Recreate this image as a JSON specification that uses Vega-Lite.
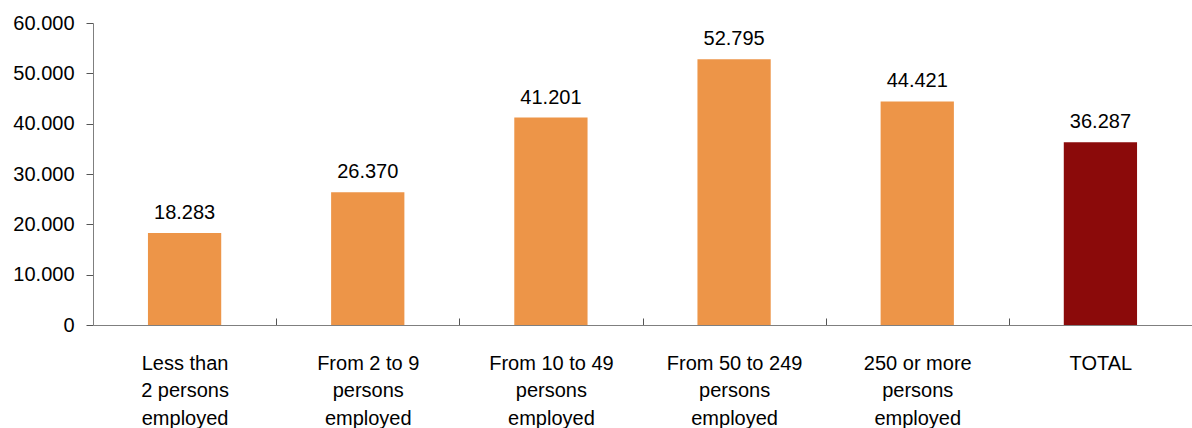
{
  "$schema": "https://vega.github.io/schema/vega-lite/v6.json",
  "width": 1099,
  "height": 302,
  "autosize": "none",
  "padding": {"left": 93, "top": 23, "right": 0, "bottom": 103},
  "config": {
    "view": {"stroke": null},
    "font": "Liberation Sans",
    "locale": {"number": {"decimal": ",", "thousands": ".", "grouping": [3], "currency": ["", "€"]}}
  },
  "data": {
    "values": [
      {"cat": "Less than|2 persons|employed", "value": 18283, "type": "size"},
      {"cat": "From 2 to 9|persons|employed", "value": 26370, "type": "size"},
      {"cat": "From 10 to 49|persons|employed", "value": 41201, "type": "size"},
      {"cat": "From 50 to 249|persons|employed", "value": 52795, "type": "size"},
      {"cat": "250 or more|persons|employed", "value": 44421, "type": "size"},
      {"cat": "TOTAL", "value": 36287, "type": "total"}
    ]
  },
  "encoding": {
    "x": {
      "field": "cat", "type": "nominal", "sort": null,
      "scale": {"paddingInner": 0.6, "paddingOuter": 0.3},
      "axis": {
        "title": null, "labelAngle": 0, "labelFontSize": 20, "labelColor": "#000000",
        "labelExpr": "split(datum.label, '|')", "labelLineHeight": 27.5, "labelPadding": 35,
        "labelBaseline": "top",
        "domainColor": "#7f7f7f", "tickColor": "#555555", "tickSize": -7,
        "tickOffset": 91.6, "labelOffset": -91.6,
        "labelLimit": 0
      }
    },
    "y": {
      "field": "value", "type": "quantitative",
      "scale": {"domain": [0, 60000]},
      "axis": {
        "title": null, "values": [0, 10000, 20000, 30000, 40000, 50000, 60000],
        "format": ",d", "labelFontSize": 20, "labelColor": "#000000", "grid": false,
        "domainColor": "#7f7f7f", "tickColor": "#555555", "tickSize": 7, "labelPadding": 12
      }
    }
  },
  "layer": [
    {
      "mark": {"type": "bar"},
      "encoding": {
        "color": {
          "field": "type", "type": "nominal",
          "scale": {"domain": ["size", "total"], "range": ["#ED9548", "#8B0A0A"]},
          "legend": null
        }
      }
    },
    {
      "mark": {"type": "text", "baseline": "alphabetic", "dy": -14, "fontSize": 20, "color": "#000000"},
      "encoding": {"text": {"field": "value", "type": "quantitative", "format": ",d"}}
    }
  ]
}
